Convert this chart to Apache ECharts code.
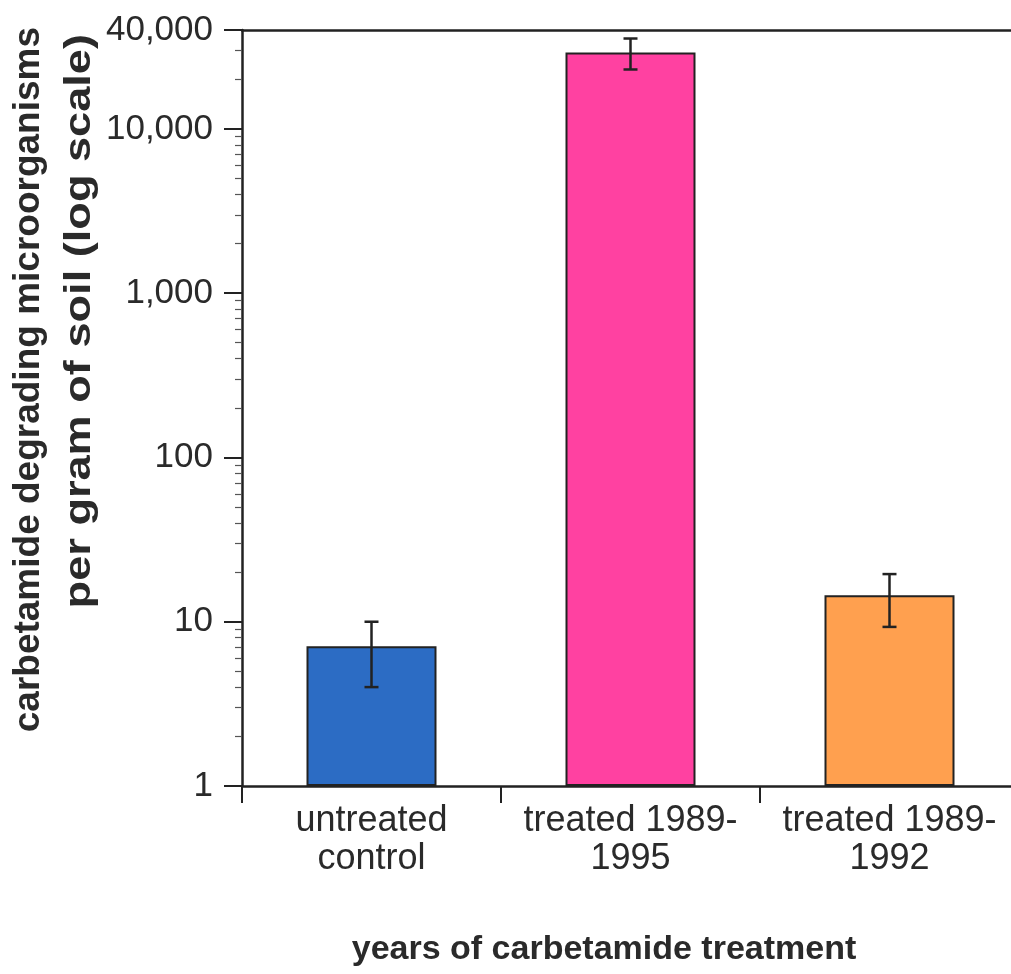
<!DOCTYPE html>
<html>
<head>
<meta charset="utf-8">
<title>Carbetamide degrading microorganisms</title>
<script src="https://cdn.jsdelivr.net/npm/echarts@6/dist/echarts.min.js"></script>
<style>
  html, body { margin: 0; padding: 0; background: #ffffff; }
  #chart { width: 1011px; height: 974px; }
</style>
</head>
<body>
<div id="chart"></div>
<script>
// Treatment groups and counts per gram of soil (geometric means with error range)
const categories = ['untreated\ncontrol', 'treated 1989-\n1995', 'treated 1989-\n1992'];
const counts = [7.1, 29200, 14.5];
const errLow = [4.0, 23000, 9.3];
const errHigh = [10.0, 35500, 19.5];

// Labelled y ticks and the minor ticks between them
const yTickValues = [1, 10, 100, 1000, 10000, 40000];
const yMinorValues = [2, 3, 4, 5, 6, 7, 8, 9,
  20, 30, 40, 50, 60, 70, 80, 90,
  200, 300, 400, 500, 600, 700, 800, 900,
  2000, 3000, 4000, 5000, 6000, 7000, 8000, 9000,
  20000, 30000];

const barColors = ['#2c6cc4', '#ff41a1', '#ffa04f'];
const ink = '#222222';
const font = "'Liberation Sans', Arial, Helvetica, sans-serif";

const chart = echarts.init(document.getElementById('chart'), null, { renderer: 'canvas' });

const logAxisBase = {
  type: 'log',
  logBase: 10,
  min: 1,
  max: 40000,
  splitLine: { show: false },
  minorTick: { show: false },
  minorSplitLine: { show: false }
};

chart.setOption({
  animation: false,
  backgroundColor: '#ffffff',
  // plot area runs past the right edge of the canvas
  grid: { left: 242, width: 777, top: 30, bottom: 188, containLabel: false, outerBoundsMode: 'none' },
  xAxis: [
    {
      type: 'category',
      data: categories,
      position: 'bottom',
      boundaryGap: true,
      axisLine: { show: true, lineStyle: { color: ink, width: 2.5 } },
      axisTick: { show: true, alignWithLabel: false, length: 17, inside: false, lineStyle: { color: ink, width: 2 } },
      axisLabel: {
        show: true, color: '#2a2a2a', fontFamily: font, fontSize: 36,
        lineHeight: 38, margin: 16, interval: 0
      },
      splitLine: { show: false }
    },
    {
      type: 'category',
      data: categories,
      position: 'top',
      axisLine: { show: true, lineStyle: { color: ink, width: 2.5 } },
      axisTick: { show: false },
      axisLabel: { show: false },
      splitLine: { show: false }
    }
  ],
  yAxis: [
    Object.assign({}, logAxisBase, {
      position: 'left',
      axisLine: { show: true, lineStyle: { color: ink, width: 2.5 } },
      axisTick: { show: true, length: 18, customValues: yTickValues, lineStyle: { color: ink, width: 2 } },
      axisLabel: {
        show: true, customValues: yTickValues, color: '#2a2a2a',
        fontFamily: font, fontSize: 35, margin: 29,
        formatter: v => Number(v).toLocaleString('en-US')
      }
    }),
    Object.assign({}, logAxisBase, {
      position: 'left',
      axisLine: { show: false },
      axisTick: { show: true, length: 7, customValues: yMinorValues, lineStyle: { color: '#555555', width: 1.2 } },
      axisLabel: { show: false }
    })
  ],
  series: [
    {
      type: 'bar',
      xAxisIndex: 0,
      yAxisIndex: 0,
      barWidth: 130,
      data: counts.map((v, i) => ({
        value: v,
        itemStyle: { color: barColors[i], borderColor: ink, borderWidth: 2 }
      })),
      z: 2
    },
    {
      // error bars: vertical stem with caps at both ends
      type: 'custom',
      xAxisIndex: 0,
      yAxisIndex: 0,
      data: categories.map((c, i) => [i, errLow[i], errHigh[i]]),
      renderItem: function (params, api) {
        const lo = api.coord([api.value(0), api.value(1)]);
        const hi = api.coord([api.value(0), api.value(2)]);
        const half = 7;
        const style = { stroke: ink, lineWidth: 2.5 };
        return {
          type: 'group',
          children: [
            { type: 'line', shape: { x1: hi[0], y1: hi[1], x2: lo[0], y2: lo[1] }, style: style },
            { type: 'line', shape: { x1: hi[0] - half, y1: hi[1], x2: hi[0] + half, y2: hi[1] }, style: style },
            { type: 'line', shape: { x1: lo[0] - half, y1: lo[1], x2: lo[0] + half, y2: lo[1] }, style: style }
          ]
        };
      },
      z: 3
    }
  ],
  graphic: [
    {
      type: 'text',
      x: 29, y: 27,
      rotation: Math.PI / 2,
      style: {
        text: 'carbetamide degrading microorganisms',
        fill: '#2a2a2a', font: "bold 37px 'Liberation Sans', Arial, sans-serif",
        align: 'right', verticalAlign: 'middle'
      }
    },
    {
      type: 'text',
      x: 80, y: 34,
      rotation: Math.PI / 2,
      scaleX: 1.22,
      style: {
        text: 'per gram of soil (log scale)',
        fill: '#2a2a2a', font: "bold 37px 'Liberation Sans', Arial, sans-serif",
        align: 'right', verticalAlign: 'middle'
      }
    },
    {
      type: 'text',
      x: 604, y: 950,
      style: {
        text: 'years of carbetamide treatment',
        fill: '#2a2a2a', font: "bold 34px 'Liberation Sans', Arial, sans-serif",
        align: 'center', verticalAlign: 'middle'
      }
    }
  ]
});
</script>
</body>
</html>
